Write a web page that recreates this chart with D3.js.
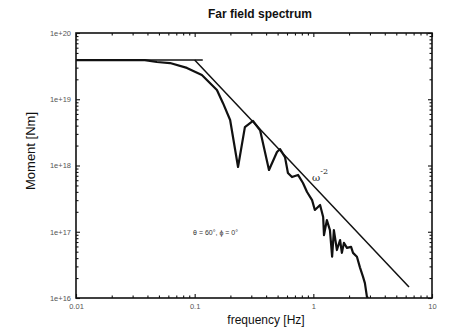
<!DOCTYPE html>
<html>
<head>
<meta charset="utf-8">
<script src="https://cdn.jsdelivr.net/npm/d3@7"></script>
<style>
  body { margin: 0; background: #fff; }
  svg { display: block; font-family: "Liberation Sans", Arial, sans-serif; }
</style>
</head>
<body>
<div id="chart"></div>
<script>
// spectrum (frequency in Hz, moment in Nm)
const freq = [0.01, 0.038, 0.048, 0.062, 0.086, 0.115, 0.154, 0.173, 0.199, 0.232,
  0.265, 0.31, 0.356, 0.423, 0.494, 0.524, 0.577, 0.611, 0.661, 0.743,
  0.818, 0.885, 0.976, 1.03, 1.14, 1.21, 1.23, 1.3, 1.38, 1.44,
  1.49, 1.58, 1.68, 1.74, 1.81, 1.92, 2.08, 2.16, 2.33, 2.47,
  2.62, 2.72, 2.83, 2.9];
const moment = [3.9e19, 3.9e19, 3.65e19, 3.52e19, 2.97e19, 2.32e19, 1.38e19, 8.8e18, 4.86e18, 9.5e17,
  3.8e18, 4.7e18, 3.4e18, 8.55e17, 1.6e18, 1.77e18, 1.34e18, 7.7e17, 6.7e17, 7.2e17,
  5.45e17, 3.98e17, 3.0e17, 2.13e17, 2.54e17, 1.67e17, 8.9e16, 1.5e17, 1.06e17, 4.2e16,
  1.06e17, 5.3e16, 7.5e16, 4.8e16, 6.8e16, 5.7e16, 5.9e16, 4.8e16, 4.2e16, 2.9e16,
  2.1e16, 1.68e16, 1.04e16, 1.0e16];

// omega^-2 model: flat plateau and the falloff line
const plateauFreq = [0.01, 0.117];
const plateauMoment = [3.9e19, 3.9e19];
const falloffFreq = [0.1, 6.4];
const falloffMoment = [3.9e19, 1.47e16];

const xTickLabels = ["0.01", "0.1", "1", "10"];
const yTickLabels = ["1e+16", "1e+17", "1e+18", "1e+19", "1e+20"];

const W = 450, H = 334;
const margin = { top: 33, right: 18, bottom: 36, left: 76 };
const width = W - margin.left - margin.right;
const height = H - margin.top - margin.bottom;

const svg = d3.select("#chart").append("svg")
  .attr("width", W)
  .attr("height", H);

const g = svg.append("g")
  .attr("transform", `translate(${margin.left},${margin.top})`);

const x = d3.scaleLog().domain([0.01, 10]).range([0, width]);
const y = d3.scaleLog().domain([1e16, 1e20]).range([height, 0]);

const isMajor = v => Math.abs(Math.log10(v) - Math.round(Math.log10(v))) < 1e-9;
const xMajor = x.ticks().filter(isMajor);
const xMinor = x.ticks().filter(v => !isMajor(v));
const yMajor = y.ticks().filter(isMajor);
const yMinor = y.ticks().filter(v => !isMajor(v));

function drawAxis(axisFn, scale, major, minor, transform, labels) {
  const gm = g.append("g").attr("transform", transform)
    .call(axisFn(scale).tickValues(major).tickSize(-4).tickSizeOuter(0)
      .tickFormat(labels ? (d, i) => labels[i] : ""));
  g.append("g").attr("transform", transform)
    .call(axisFn(scale).tickValues(minor).tickSize(-2.5).tickSizeOuter(0).tickFormat(""));
  return gm;
}

const bottom = drawAxis(d3.axisBottom, x, xMajor, xMinor, `translate(0,${height})`, xTickLabels);
drawAxis(d3.axisTop, x, xMajor, xMinor, "translate(0,0)", null);
const left = drawAxis(d3.axisLeft, y, yMajor, yMinor, "translate(0,0)", yTickLabels);
drawAxis(d3.axisRight, y, yMajor, yMinor, `translate(${width},0)`, null);

g.selectAll(".domain").remove();
g.selectAll(".tick line").attr("stroke", "#111").attr("stroke-width", 1.1);

bottom.selectAll(".tick text")
  .attr("y", 6).attr("dy", "0.71em")
  .attr("font-size", 7.5).attr("fill", "#555")
  .attr("font-family", "Liberation Sans, Arial, sans-serif");
left.selectAll(".tick text")
  .attr("x", -5)
  .attr("font-size", 7.5).attr("fill", "#555")
  .attr("font-family", "Liberation Sans, Arial, sans-serif");

// frame
g.append("rect")
  .attr("width", width).attr("height", height)
  .attr("fill", "none").attr("stroke", "#111").attr("stroke-width", 1.6);

svg.append("clipPath").attr("id", "plotclip")
  .append("rect").attr("width", width).attr("height", height);

const line = d3.line().x(d => x(d[0])).y(d => y(d[1]));

const plot = g.append("g").attr("clip-path", "url(#plotclip)");

plot.append("path")
  .datum(d3.zip(plateauFreq, plateauMoment))
  .attr("d", line).attr("fill", "none")
  .attr("stroke", "#111").attr("stroke-width", 1.5);

plot.append("path")
  .datum(d3.zip(falloffFreq, falloffMoment))
  .attr("d", line).attr("fill", "none")
  .attr("stroke", "#111").attr("stroke-width", 1.5);

plot.append("path")
  .datum(d3.zip(freq, moment))
  .attr("d", line).attr("fill", "none")
  .attr("stroke", "#111").attr("stroke-width", 2.2)
  .attr("stroke-linejoin", "round");

// omega^-2 label
const om = g.append("text")
  .attr("x", x(0.975)).attr("y", y(5.8e17))
  .attr("font-size", 10).attr("fill", "#222")
  .attr("font-family", "DejaVu Serif, serif");
om.append("tspan").text("ω");
om.append("tspan").attr("dy", -7).attr("font-size", 8).text("-2");

// angle annotation
g.append("text")
  .attr("x", x(0.097)).attr("y", y(9e16))
  .attr("font-size", 7).attr("fill", "#333")
  .text("θ = 60°, ϕ = 0°");

// title and axis labels
svg.append("text")
  .attr("x", 260).attr("y", 18)
  .attr("text-anchor", "middle")
  .attr("font-size", 12).attr("font-weight", "bold").attr("fill", "#111")
  .text("Far field spectrum");

svg.append("text")
  .attr("x", 266).attr("y", 324)
  .attr("text-anchor", "middle")
  .attr("font-size", 12).attr("fill", "#111")
  .text("frequency [Hz]");

svg.append("text")
  .attr("transform", "translate(35,151) rotate(-90)")
  .attr("text-anchor", "middle")
  .attr("font-size", 13).attr("fill", "#111")
  .text("Moment [Nm]");
</script>
</body>
</html>
